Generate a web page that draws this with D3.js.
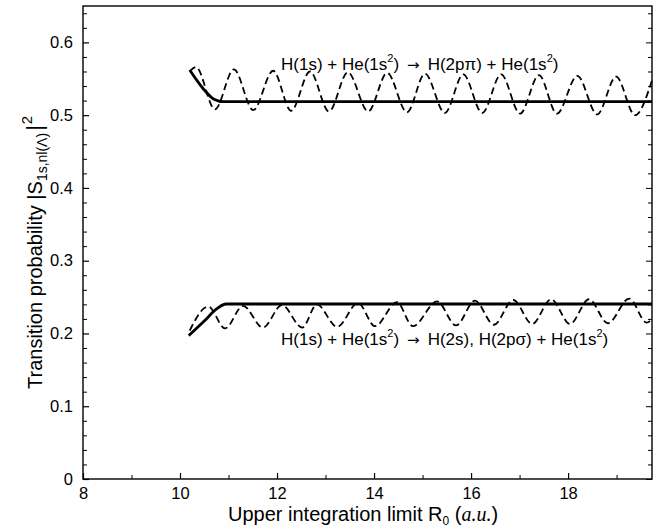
<!DOCTYPE html>
<html>
<head>
<meta charset="utf-8">
<script src="https://cdn.jsdelivr.net/npm/d3@7"></script>
<style>
  body { margin: 0; background: #fff; }
  svg { display: block; }
  text { font-family: "Liberation Sans", Arial, Helvetica, sans-serif; fill: #000; }
</style>
</head>
<body>
<svg id="chart" width="659" height="531"></svg>
<script>
// ---- Data ----
const xTicks = [8, 10, 12, 14, 16, 18];
const yTicks = [0, 0.1, 0.2, 0.3, 0.4, 0.5, 0.6];
const yTickLabels = ["0", "0.1", "0.2", "0.3", "0.4", "0.5", "0.6"];

// 2pπ, solid
const upperSolidX = [10.20, 10.47, 10.70, 10.90, 19.73];
const upperSolidY = [0.562, 0.537, 0.522, 0.5185, 0.5185];
// 2pπ, dashed (oscillating)
const upperDashX = [10.20, 10.33, 10.72, 11.11, 11.51, 11.92, 12.29, 12.68, 13.07, 13.46, 13.88, 14.27, 14.68, 15.05, 15.46, 15.84, 16.23, 16.62, 17.01, 17.40, 17.77, 18.19, 18.60, 18.99, 19.38, 19.73];
const upperDashY = [0.560, 0.566, 0.508, 0.563, 0.507, 0.561, 0.506, 0.560, 0.505, 0.559, 0.505, 0.558, 0.504, 0.557, 0.503, 0.556, 0.503, 0.556, 0.502, 0.555, 0.502, 0.554, 0.501, 0.553, 0.500, 0.548];
// 2s, 2pσ, solid
const lowerSolidX = [10.18, 10.50, 10.76, 10.95, 19.73];
const lowerSolidY = [0.197, 0.217, 0.234, 0.2405, 0.2405];
// 2s, 2pσ, dashed (oscillating)
const lowerDashX = [10.20, 10.58, 10.93, 11.30, 11.71, 12.10, 12.52, 12.82, 13.24, 13.67, 14.02, 14.47, 14.80, 15.30, 15.69, 16.08, 16.47, 16.87, 17.26, 17.65, 18.04, 18.43, 18.82, 19.26, 19.62, 19.73];
const lowerDashY = [0.204, 0.237, 0.207, 0.238, 0.208, 0.239, 0.208, 0.240, 0.209, 0.242, 0.210, 0.243, 0.210, 0.244, 0.211, 0.245, 0.212, 0.246, 0.213, 0.247, 0.213, 0.247, 0.214, 0.248, 0.215, 0.220];

// ---- Layout ----
const W = 659, H = 531;
const margin = {left: 83, right: 7, top: 6, bottom: 52};
const svg = d3.select("#chart");
const x = d3.scaleLinear().domain([8, 19.73]).range([margin.left, W - margin.right]);
const y = d3.scaleLinear().domain([0, 0.65]).range([H - margin.bottom, margin.top]);

const g = svg.append("g");

// frame
g.append("rect")
  .attr("x", x.range()[0]).attr("y", y.range()[1])
  .attr("width", x.range()[1] - x.range()[0])
  .attr("height", y.range()[0] - y.range()[1])
  .attr("fill", "none").attr("stroke", "#000").attr("stroke-width", 1.4);

// minor ticks
const yMinor = d3.range(0, 0.6501, 0.02).map(v => +v.toFixed(2)).filter(v => Math.abs(v * 10 - Math.round(v * 10)) > 1e-6);
const xMinor = d3.range(9, 19.8, 2);

// bottom axis
const xAxis = d3.axisBottom(x).tickValues(xTicks).tickSize(-6).tickPadding(8).tickFormat(d3.format("d"));
const gx = g.append("g").attr("transform", `translate(0,${y(0)})`).call(xAxis);
gx.select(".domain").remove();
gx.selectAll("text").attr("font-size", 16.5);
gx.selectAll("line").attr("stroke-width", 1.2);
const gxm = g.append("g").attr("transform", `translate(0,${y(0)})`)
  .call(d3.axisBottom(x).tickValues(xMinor).tickSize(-4).tickFormat(""));
gxm.select(".domain").remove();

// left axis
const yAxis = d3.axisLeft(y).tickValues(yTicks).tickSize(-6).tickPadding(10)
  .tickFormat((d, i) => yTickLabels[i]);
const gy = g.append("g").attr("transform", `translate(${x.range()[0]},0)`).call(yAxis);
gy.select(".domain").remove();
gy.selectAll("text").attr("font-size", 16.5);
gy.selectAll("line").attr("stroke-width", 1.2);
const gym = g.append("g").attr("transform", `translate(${x.range()[0]},0)`)
  .call(d3.axisLeft(y).tickValues(yMinor).tickSize(-4).tickFormat(""));
gym.select(".domain").remove();

// right axis (ticks inward)
const gr = g.append("g").attr("transform", `translate(${x.range()[1]},0)`)
  .call(d3.axisRight(y).tickValues(yTicks).tickSize(-6).tickFormat(""));
gr.select(".domain").remove();
const grm = g.append("g").attr("transform", `translate(${x.range()[1]},0)`)
  .call(d3.axisRight(y).tickValues(yMinor).tickSize(-4).tickFormat(""));
grm.select(".domain").remove();

// ---- Curves ----
const line = d3.line().x(d => x(d[0])).y(d => y(d[1])).curve(d3.curveMonotoneX);
const zip = (a, b) => a.map((v, i) => [v, b[i]]);

const plot = g.append("g");
plot.append("path").datum(zip(upperDashX, upperDashY)).attr("d", line)
  .attr("fill", "none").attr("stroke", "#000").attr("stroke-width", 1.8).attr("stroke-dasharray", "7,4");
plot.append("path").datum(zip(lowerDashX, lowerDashY)).attr("d", line)
  .attr("fill", "none").attr("stroke", "#000").attr("stroke-width", 1.8).attr("stroke-dasharray", "7,4");
plot.append("path").datum(zip(upperSolidX, upperSolidY)).attr("d", line)
  .attr("fill", "none").attr("stroke", "#000").attr("stroke-width", 2.8);
plot.append("path").datum(zip(lowerSolidX, lowerSolidY)).attr("d", line)
  .attr("fill", "none").attr("stroke", "#000").attr("stroke-width", 2.8);

// ---- Annotations ----
function reaction(xp, yp, parts) {
  const t = g.append("text").attr("x", xp).attr("y", yp).attr("font-size", 17)
    .attr("xml:space", "preserve");
  parts.forEach(p => {
    const s = t.append("tspan").text(p.t);
    if (p.sup) s.attr("font-size", 11).attr("dy", -8);
    if (p.down) s.attr("dy", 8);
    if (p.arrow) s.attr("font-family", "'DejaVu Sans', sans-serif").attr("font-size", 15).attr("dx", 8);
    if (p.after) s.attr("dx", 8);
  });
  return t;
}
reaction(281, 70, [
  {t: "H(1s) + He(1s"}, {t: "2", sup: true}, {t: ")", down: true}, {t: "\u2192", arrow: true},
  {t: "H(2p\u03c0) + He(1s", after: true}, {t: "2", sup: true}, {t: ")", down: true}
]);
reaction(281, 345, [
  {t: "H(1s) + He(1s"}, {t: "2", sup: true}, {t: ")", down: true}, {t: "\u2192", arrow: true},
  {t: "H(2s), H(2p\u03c3) + He(1s", after: true}, {t: "2", sup: true}, {t: ")", down: true}
]);

// x label
const xl = g.append("text").attr("x", 228).attr("y", 521).attr("font-size", 20);
xl.append("tspan").text("Upper integration limit R");
xl.append("tspan").text("0").attr("font-size", 12).attr("dy", 4);
xl.append("tspan").text(" (").attr("dy", -4);
xl.append("tspan").text("a.u.").attr("font-family", "'Liberation Serif', 'Times New Roman', serif").attr("font-style", "italic");
xl.append("tspan").text(")");

// y label
const yl = g.append("text").attr("transform", "translate(42,389) rotate(-90)").attr("font-size", 20);
yl.append("tspan").text("Transition probability |S");
yl.append("tspan").text("1s,nl(\u039b)").attr("font-size", 14).attr("dy", 5);
yl.append("tspan").text("|").attr("dy", -5).attr("dx", 2).attr("font-size", 22);
yl.append("tspan").text("2").attr("font-size", 15).attr("dy", -10).attr("dx", 1);
</script>
</body>
</html>
